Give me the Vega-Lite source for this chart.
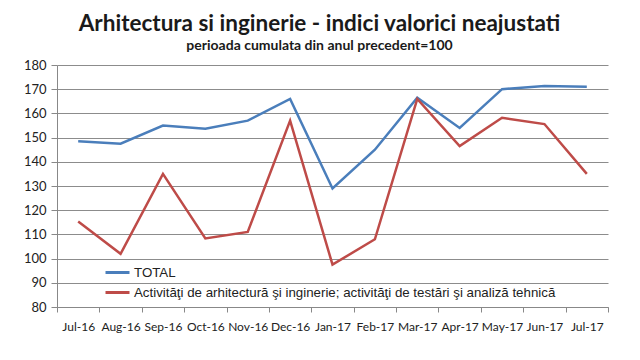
{
  "$schema": "https://vega.github.io/schema/vega-lite/v6.json",
  "autosize": "none",
  "width": 551,
  "height": 242,
  "padding": {"left": 57, "top": 65, "right": 32, "bottom": 53},
  "background": "white",
  "title": {
    "text": "Arhitectura si inginerie - indici valorici neajustati",
    "subtitle": "perioada cumulata din anul precedent=100",
    "font": "Lato",
    "fontSize": 22.5,
    "fontWeight": "bold",
    "color": "#1a1a1a",
    "subtitleFont": "Lato",
    "subtitleFontSize": 14,
    "subtitleFontWeight": "bold",
    "subtitleColor": "#1a1a1a",
    "subtitlePadding": 4,
    "anchor": "middle",
    "frame": "group",
    "dx": -13,
    "offset": 6
  },
  "data": {
    "values": [
      {"luna": "Jul-16", "serie": "TOTAL", "v": 148.5},
      {"luna": "Aug-16", "serie": "TOTAL", "v": 147.5},
      {"luna": "Sep-16", "serie": "TOTAL", "v": 155},
      {"luna": "Oct-16", "serie": "TOTAL", "v": 153.7},
      {"luna": "Nov-16", "serie": "TOTAL", "v": 157},
      {"luna": "Dec-16", "serie": "TOTAL", "v": 166},
      {"luna": "Jan-17", "serie": "TOTAL", "v": 129},
      {"luna": "Feb-17", "serie": "TOTAL", "v": 145},
      {"luna": "Mar-17", "serie": "TOTAL", "v": 166.5},
      {"luna": "Apr-17", "serie": "TOTAL", "v": 154},
      {"luna": "May-17", "serie": "TOTAL", "v": 170},
      {"luna": "Jun-17", "serie": "TOTAL", "v": 171.3},
      {"luna": "Jul-17", "serie": "TOTAL", "v": 171},
      {"luna": "Jul-16", "serie": "Activităţi de arhitectură şi inginerie; activităţi de testări şi analiză tehnică", "v": 115.3},
      {"luna": "Aug-16", "serie": "Activităţi de arhitectură şi inginerie; activităţi de testări şi analiză tehnică", "v": 102},
      {"luna": "Sep-16", "serie": "Activităţi de arhitectură şi inginerie; activităţi de testări şi analiză tehnică", "v": 135},
      {"luna": "Oct-16", "serie": "Activităţi de arhitectură şi inginerie; activităţi de testări şi analiză tehnică", "v": 108.3},
      {"luna": "Nov-16", "serie": "Activităţi de arhitectură şi inginerie; activităţi de testări şi analiză tehnică", "v": 111},
      {"luna": "Dec-16", "serie": "Activităţi de arhitectură şi inginerie; activităţi de testări şi analiză tehnică", "v": 157},
      {"luna": "Jan-17", "serie": "Activităţi de arhitectură şi inginerie; activităţi de testări şi analiză tehnică", "v": 97.5},
      {"luna": "Feb-17", "serie": "Activităţi de arhitectură şi inginerie; activităţi de testări şi analiză tehnică", "v": 108},
      {"luna": "Mar-17", "serie": "Activităţi de arhitectură şi inginerie; activităţi de testări şi analiză tehnică", "v": 166},
      {"luna": "Apr-17", "serie": "Activităţi de arhitectură şi inginerie; activităţi de testări şi analiză tehnică", "v": 146.5},
      {"luna": "May-17", "serie": "Activităţi de arhitectură şi inginerie; activităţi de testări şi analiză tehnică", "v": 158.2},
      {"luna": "Jun-17", "serie": "Activităţi de arhitectură şi inginerie; activităţi de testări şi analiză tehnică", "v": 155.6},
      {"luna": "Jul-17", "serie": "Activităţi de arhitectură şi inginerie; activităţi de testări şi analiză tehnică", "v": 135}
    ]
  },
  "mark": {"type": "line", "strokeWidth": 2.5},
  "encoding": {
    "x": {
      "field": "luna",
      "type": "ordinal",
      "sort": null,
      "scale": {"type": "band", "paddingInner": 0, "paddingOuter": 0},
      "axis": {
        "title": null,
        "labelAngle": 0,
        "labelFont": "Lato",
        "labelFontSize": 12,
        "labelColor": "#222",
        "labelPadding": 9,
        "tickBand": "extent",
        "tickSize": 5,
        "tickColor": "#888",
        "domainColor": "#888",
        "grid": false
      }
    },
    "y": {
      "field": "v",
      "type": "quantitative",
      "scale": {"domain": [80, 180], "nice": false, "zero": false},
      "axis": {
        "title": null,
        "values": [80, 90, 100, 110, 120, 130, 140, 150, 160, 170, 180],
        "labelFont": "Lato",
        "labelFontSize": 13,
        "labelColor": "#222",
        "labelPadding": 5,
        "tickSize": 6,
        "tickColor": "#888",
        "domainColor": "#888",
        "gridColor": "#8c8c8c",
        "gridWidth": 1
      }
    },
    "color": {
      "field": "serie",
      "type": "nominal",
      "sort": null,
      "scale": {
        "domain": ["TOTAL", "Activităţi de arhitectură şi inginerie; activităţi de testări şi analiză tehnică"],
        "range": ["#4A7EBB", "#BE4B48"]
      },
      "legend": {
        "title": null,
        "orient": "none",
        "legendX": 47,
        "legendY": 194,
        "symbolType": "stroke",
        "symbolSize": 576,
        "symbolStrokeWidth": 3,
        "labelFont": "Liberation Sans",
        "labelFontSize": 13.3,
        "labelColor": "#222",
        "labelOffset": 3,
        "labelLimit": 600,
        "rowPadding": -2
      }
    }
  },
  "config": {"view": {"stroke": null}}
}
